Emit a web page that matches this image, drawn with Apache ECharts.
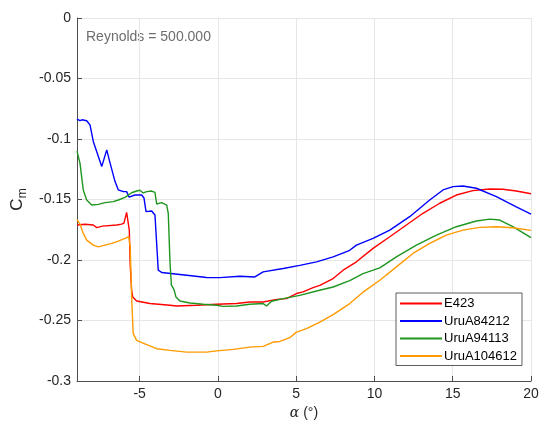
<!DOCTYPE html>
<html><head><meta charset="utf-8">
<script src="https://cdn.jsdelivr.net/npm/echarts@6/dist/echarts.min.js"></script>
<style>html,body{margin:0;padding:0;background:#fff}#c{width:542px;height:421px}</style>
</head><body><div id="c"></div>
<script>
var seriesNames = ['E423', 'UruA84212', 'UruA94113', 'UruA104612'];
var xTicks = [-5, 0, 5, 10, 15, 20];

var e423Alpha = [-9, -8.49, -7.96, -7.74, -7.37, -6.46, -6.15, -6.0, -5.83, -5.72, -5.66, -5.6, -5.51, -5.44, -5.19, -4.34, -3.06, -2.64, -1.36, -0.08, 1.19, 2.04, 2.89, 3.75, 4.38, 5.02, 5.44, 6.08, 6.51, 7.36, 8.0, 8.85, 9.91, 10.98, 12.04, 13.1, 14.17, 15.23, 16.29, 17.36, 18.21, 19.06, 20];
var e423Cm = [-0.1711, -0.1705, -0.1711, -0.1732, -0.172, -0.1711, -0.1703, -0.1695, -0.1606, -0.1601, -0.1753, -0.2043, -0.225, -0.2305, -0.2339, -0.236, -0.2374, -0.238, -0.2374, -0.2366, -0.236, -0.2347, -0.2347, -0.2325, -0.2319, -0.2277, -0.2264, -0.2228, -0.2209, -0.2153, -0.2084, -0.2015, -0.1904, -0.1808, -0.1711, -0.1614, -0.1531, -0.1463, -0.1427, -0.1413, -0.1415, -0.143, -0.1452];

var a84Alpha = [-9, -8.81, -8.68, -8.38, -8.17, -7.96, -7.42, -7.10, -6.89, -6.57, -6.36, -6.04, -5.83, -5.68, -5.30, -4.87, -4.72, -4.59, -4.23, -4.02, -3.81, -3.59, -1.99, -0.72, 0.13, 1.40, 2.36, 2.89, 4.17, 5.23, 6.30, 7.36, 8.42, 8.85, 9.91, 10.98, 12.25, 13.53, 14.38, 15.02, 15.65, 16.51, 17.79, 19.06, 20];
var a84Cm = [-0.0835, -0.0849, -0.0841, -0.0849, -0.0883, -0.102, -0.1228, -0.109, -0.1197, -0.1352, -0.1421, -0.1435, -0.1435, -0.148, -0.1463, -0.1463, -0.1488, -0.160, -0.1595, -0.1628, -0.2084, -0.2103, -0.2126, -0.2145, -0.2146, -0.2134, -0.214, -0.2098, -0.207, -0.2044, -0.2015, -0.1974, -0.192, -0.1877, -0.1822, -0.1753, -0.1642, -0.1504, -0.1421, -0.1394, -0.1388, -0.1407, -0.1477, -0.156, -0.162];

var a94Alpha = [-9, -8.81, -8.60, -8.38, -8.06, -7.64, -7.21, -6.68, -6.36, -5.93, -5.51, -5.19, -4.98, -4.77, -4.55, -4.23, -4.02, -3.91, -3.59, -3.27, -3.17, -3.06, -2.97, -2.81, -2.68, -2.43, -1.79, -0.94, -0.08, 0.34, 1.19, 2.04, 2.89, 3.11, 3.43, 4.17, 5.23, 6.30, 7.36, 8.42, 9.27, 10.34, 11.40, 12.68, 13.96, 15.23, 16.51, 17.36, 18.00, 18.84, 20];
var a94Cm = [-0.110, -0.120, -0.1421, -0.1504, -0.1546, -0.154, -0.1526, -0.1518, -0.1504, -0.1482, -0.1444, -0.143, -0.1424, -0.1446, -0.1435, -0.143, -0.1442, -0.1537, -0.1526, -0.1546, -0.1614, -0.2018, -0.2208, -0.2242, -0.2305, -0.2339, -0.2355, -0.2366, -0.2374, -0.2383, -0.238, -0.2366, -0.236, -0.238, -0.2341, -0.2319, -0.2292, -0.2256, -0.2223, -0.2171, -0.2112, -0.2065, -0.1974, -0.1877, -0.1794, -0.1725, -0.1678, -0.1662, -0.167, -0.1725, -0.1815];

var a104Alpha = [-9, -8.81, -8.60, -8.38, -8.17, -7.96, -7.64, -7.21, -6.78, -6.36, -5.93, -5.69, -5.60, -5.51, -5.41, -5.19, -4.55, -3.91, -3.06, -2.00, -0.72, -0.08, 0.98, 2.04, 2.89, 3.53, 3.96, 4.59, 5.02, 5.66, 6.51, 7.36, 8.42, 9.27, 10.34, 11.40, 12.46, 13.53, 14.59, 15.65, 16.72, 17.79, 18.84, 20];
var a104Cm = [-0.1666, -0.1703, -0.178, -0.1836, -0.1856, -0.1877, -0.1891, -0.1877, -0.1863, -0.1844, -0.1821, -0.1808, -0.1894, -0.2305, -0.2609, -0.2664, -0.27, -0.2733, -0.2747, -0.2761, -0.2761, -0.2751, -0.2739, -0.272, -0.2714, -0.2678, -0.2673, -0.2642, -0.2596, -0.2567, -0.2513, -0.2451, -0.236, -0.2266, -0.2167, -0.2057, -0.1946, -0.1863, -0.1794, -0.1753, -0.173, -0.1725, -0.1734, -0.1755];

function pairs(xs, ys) { return xs.map(function (x, i) { return [x, ys[i]]; }); }
var colors = ['#ff0000', '#0000ff', '#1f961f', '#ff9a00'];
var allData = [pairs(e423Alpha, e423Cm), pairs(a84Alpha, a84Cm), pairs(a94Alpha, a94Cm), pairs(a104Alpha, a104Cm)];

var font = 'Liberation Sans, Arial, Helvetica, sans-serif';
var chart = echarts.init(document.getElementById('c'), null, {renderer: 'canvas'});
chart.setOption({
  animation: false,
  backgroundColor: '#ffffff',
  grid: {left: 77, right: 11, top: 18, bottom: 40, containLabel: false, outerBoundsMode: 'none'},
  xAxis: {
    type: 'value', min: -9, max: 20,
    name: '{a|α} (°)', nameLocation: 'middle', nameGap: 23,
    nameTextStyle: {fontFamily: font, fontSize: 14, color: '#262626',
      rich: {a: {fontFamily: 'DejaVu Serif, serif', fontStyle: 'italic', fontSize: 14, color: '#262626'}}},
    axisLine: {show: true, onZero: false, lineStyle: {color: '#4d4d4d', width: 1}},
    axisTick: {show: true, inside: true, length: 5, customValues: xTicks, lineStyle: {color: '#4d4d4d'}},
    axisLabel: {customValues: xTicks, color: '#262626', fontFamily: font, fontSize: 14, margin: 6},
    splitLine: {show: true, lineStyle: {color: '#e6e6e6', width: 1}}
  },
  yAxis: {
    type: 'value', min: -0.3, max: 0, interval: 0.05,
    name: '{c|C}{m|m}', nameLocation: 'middle', nameGap: 47, nameRotate: 90,
    nameTextStyle: {rich: {
      c: {fontFamily: font, fontSize: 17, color: '#262626', lineHeight: 22, verticalAlign: 'middle'},
      m: {fontFamily: font, fontSize: 12, color: '#262626', lineHeight: 22, verticalAlign: 'bottom', padding: [8, 0, 0, 0]}
    }},
    axisLine: {show: true, onZero: false, lineStyle: {color: '#4d4d4d', width: 1}},
    axisTick: {show: true, inside: true, length: 5, lineStyle: {color: '#4d4d4d'}},
    axisLabel: {color: '#262626', fontFamily: font, fontSize: 14, margin: 6,
      formatter: function (v) { return String(Math.round(v * 100) / 100); }},
    splitLine: {show: true, lineStyle: {color: '#e6e6e6', width: 1}}
  },
  legend: {
    orient: 'vertical', left: 396, top: 293,
    data: seriesNames,
    icon: 'rect', itemWidth: 42, itemHeight: 2, itemGap: 4.5,
    padding: [4, 5, 3, 4],
    backgroundColor: '#ffffff', borderColor: '#333333', borderWidth: 0.8, borderRadius: 0,
    textStyle: {fontFamily: font, fontSize: 13, color: '#000000', padding: [0, 0, 0, -3]}
  },
  graphic: [{
    type: 'text', left: 86, top: 30,
    style: {text: 'Reynolds = 500.000', fill: '#6e6e6e', font: '14px ' + font}
  }],
  series: seriesNames.map(function (n, i) {
    return {name: n, type: 'line', data: allData[i], showSymbol: false, symbol: 'none',
      lineStyle: {color: colors[i], width: 1.4}, itemStyle: {color: colors[i]}, z: 2 + i};
  })
});
</script></body></html>
